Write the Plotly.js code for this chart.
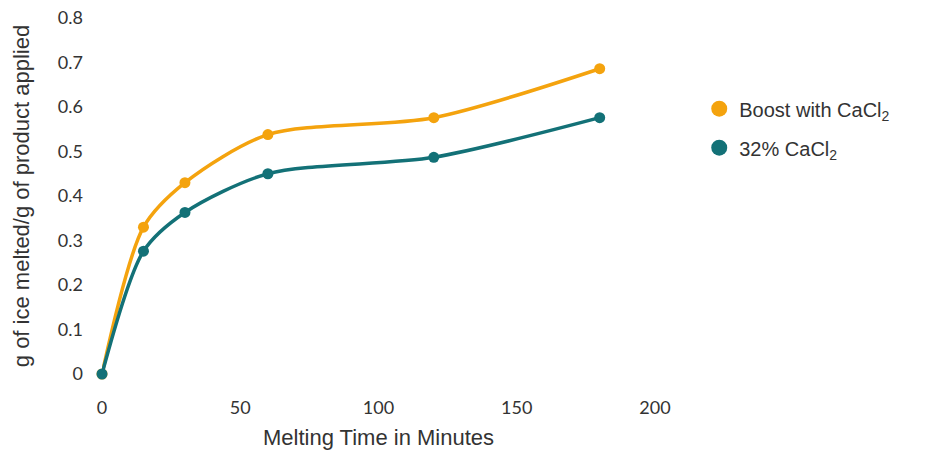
<!DOCTYPE html>
<html>
<head>
<meta charset="utf-8">
<script src="https://cdn.plot.ly/plotly-3.0.1.min.js"></script>
<style>html,body{margin:0;padding:0;background:#fff;}#chart{width:925px;height:451px;}</style>
</head>
<body>
<div id="chart"></div>
<script>
const minutes = [0, 15, 30, 60, 120, 180];
const boostCaCl2 = [0, 0.33, 0.43, 0.538, 0.576, 0.686];
const cacl2_32 = [0, 0.276, 0.363, 0.45, 0.487, 0.576];
const seriesNames = ['Boost with CaCl<sub>2</sub>', '32% CaCl<sub>2</sub>'];
const xTicks = [0, 50, 100, 150, 200];
const yTicks = [0, 0.1, 0.2, 0.3, 0.4, 0.5, 0.6, 0.7, 0.8];
const yTickLabels = ['0', '0.1', '0.2', '0.3', '0.4', '0.5', '0.6', '0.7', '0.8'];

const orange = '#F4A30E';
const teal = '#137177';

const traces = [
  {x: minutes, y: boostCaCl2, mode: 'lines+markers', line: {shape: 'spline', smoothing: 0.8, color: orange, width: 3.5}, marker: {size: 11, color: orange}, showlegend: false, cliponaxis: false},
  {x: minutes, y: cacl2_32, mode: 'lines+markers', line: {shape: 'spline', smoothing: 0.8, color: teal, width: 3.5}, marker: {size: 11, color: teal}, showlegend: false, cliponaxis: false},
  {x: [null], y: [null], mode: 'markers', name: seriesNames[0], legendgroup: 'a', marker: {size: 16, color: orange}},
  {x: [null], y: [null], mode: 'markers', name: seriesNames[1], legendgroup: 'b', marker: {size: 16, color: teal}}
];

const layout = {
  width: 925, height: 451,
  margin: {l: 102, r: 270, t: 18, b: 77},
  paper_bgcolor: '#fff', plot_bgcolor: '#fff',
  xaxis: {
    range: [0, 200], tickvals: xTicks, showgrid: false, zeroline: false, showline: false,
    ticks: '', ticklabelstandoff: 21,
    tickfont: {family: 'Lato, sans-serif', size: 18, color: '#333'},
    title: {text: 'Melting Time in Minutes', font: {family: 'Liberation Sans, Arial, sans-serif', size: 22, color: '#333'}, standoff: 12}
  },
  yaxis: {
    range: [0, 0.8], tickvals: yTicks, ticktext: yTickLabels, showgrid: false, zeroline: false, showline: false,
    ticks: '', ticklabelstandoff: 18,
    tickfont: {family: 'Lato, sans-serif', size: 18, color: '#333'},
    title: {text: 'g of ice melted/g of product applied', font: {family: 'Liberation Sans, Arial, sans-serif', size: 22, color: '#333'}, standoff: 22}
  },
  legend: {
    x: 1.08, xanchor: 'left', y: 0.8, yanchor: 'top',
    font: {family: 'Liberation Sans, Arial, sans-serif', size: 20, color: '#333'},
    traceorder: 'grouped', tracegroupgap: 10, itemwidth: 30
  },
  showlegend: true
};

Plotly.newPlot('chart', traces, layout, {displayModeBar: false, staticPlot: true});
</script>
</body>
</html>
